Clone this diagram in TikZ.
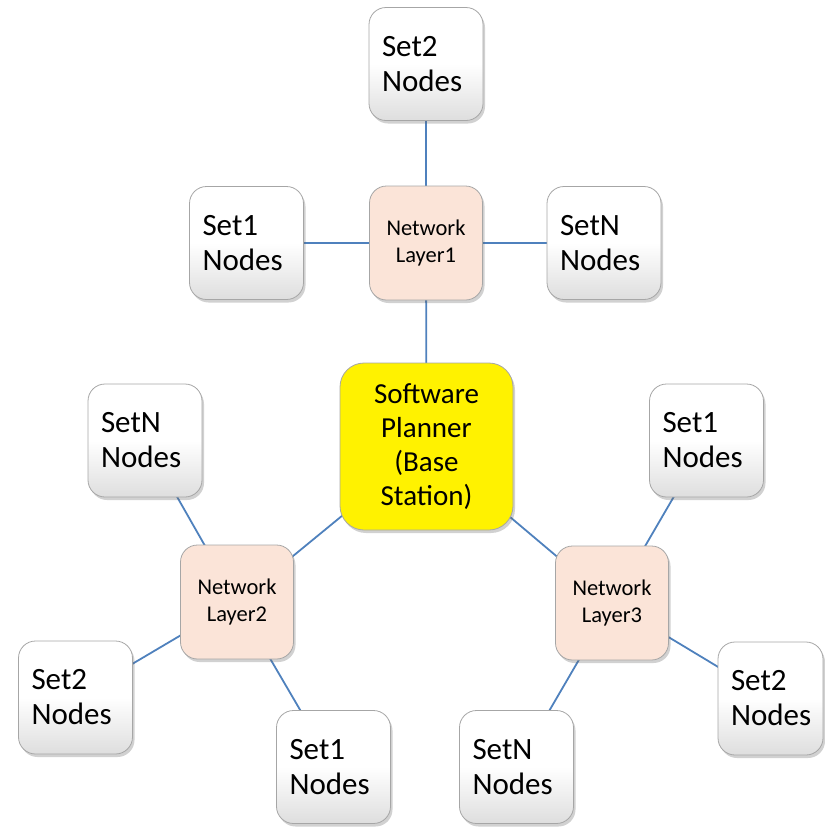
\documentclass[tikz,border=0pt]{standalone}
\usepackage{fontspec}
\setmainfont{Carlito}
\usetikzlibrary{shadows,backgrounds}
\definecolor{edgeblue}{HTML}{4F81BD}
\definecolor{peach}{HTML}{FBE4D8}
\definecolor{boxborder}{HTML}{A6A6A6}
\begin{document}
\begin{tikzpicture}[x=1pt,y=-1pt,
  leaf/.style={draw=boxborder, line width=0.8pt, rounded corners=17pt,
    top color=white, bottom color=black!13, middle color=white,
    minimum width=114pt, minimum height=113pt, text width=88pt, inner xsep=13pt,
    align=left, font=\fontsize{31}{35}\selectfont,
    drop shadow={shadow xshift=2pt, shadow yshift=-3pt, opacity=0.3, fill=black!60}},
  layer/.style={draw=boxborder, line width=0.8pt, fill=peach, rounded corners=17pt,
    minimum width=113pt, minimum height=114pt, align=center,
    font=\fontsize{22.5}{27}\selectfont,
    drop shadow={shadow xshift=2pt, shadow yshift=-3pt, opacity=0.3, fill=black!60}},
  planner/.style={draw=boxborder, line width=0.8pt, fill=yellow, rounded corners=24pt,
    minimum width=173pt, minimum height=167pt, align=center,
    font=\fontsize{29}{34}\selectfont,
    drop shadow={shadow xshift=2pt, shadow yshift=-3pt, opacity=0.3, fill=black!60}},
  link/.style={draw=edgeblue, line width=1.8pt}]
\useasboundingbox (0,0) rectangle (825,828);
% central
\node[planner] (bs) at (426.5,446.5) {Software\\Planner\\(Base\\Station)};
% layer nodes
\node[layer] (l1) at (426,243) {Network\\Layer1};
\node[layer] (l2) at (237,602) {Network\\Layer2};
\node[layer] (l3) at (612,603) {Network\\Layer3};
% leaves of layer 1
\node[leaf] (t2) at (426,64) {Set2\\Nodes};
\node[leaf] (t1) at (246.5,243) {Set1\\Nodes};
\node[leaf] (tn) at (604,243) {SetN\\Nodes};
% leaves of layer 2
\node[leaf] (ln) at (145,440.5) {SetN\\Nodes};
\node[leaf] (l2s) at (75.5,697.5) {Set2\\Nodes};
\node[leaf] (l1s) at (333.5,767) {Set1\\Nodes};
% leaves of layer 3
\node[leaf] (r1) at (706.5,440.5) {Set1\\Nodes};
\node[leaf, minimum width=105pt, text width=79pt] (r2) at (770.5,698.5) {Set2\\Nodes};
\node[leaf] (rn) at (516.5,767) {SetN\\Nodes};
\begin{pgfonlayer}{background}
\draw[link] (l1.center) -- (t2.center);
\draw[link] (l1.center) -- (t1.center);
\draw[link] (l1.center) -- (tn.center);
\draw[link] (l1.center) -- (bs.center);
\draw[link] (bs.center) -- (l2.center);
\draw[link] (bs.center) -- (l3.center);
\draw[link] (l2.center) -- (ln.center);
\draw[link] (l2.center) -- (l2s.center);
\draw[link] (l2.center) -- (l1s.center);
\draw[link] (l3.center) -- (r1.center);
\draw[link] (l3.center) -- (r2.center);
\draw[link] (l3.center) -- (rn.center);
\end{pgfonlayer}
\end{tikzpicture}
\end{document}
